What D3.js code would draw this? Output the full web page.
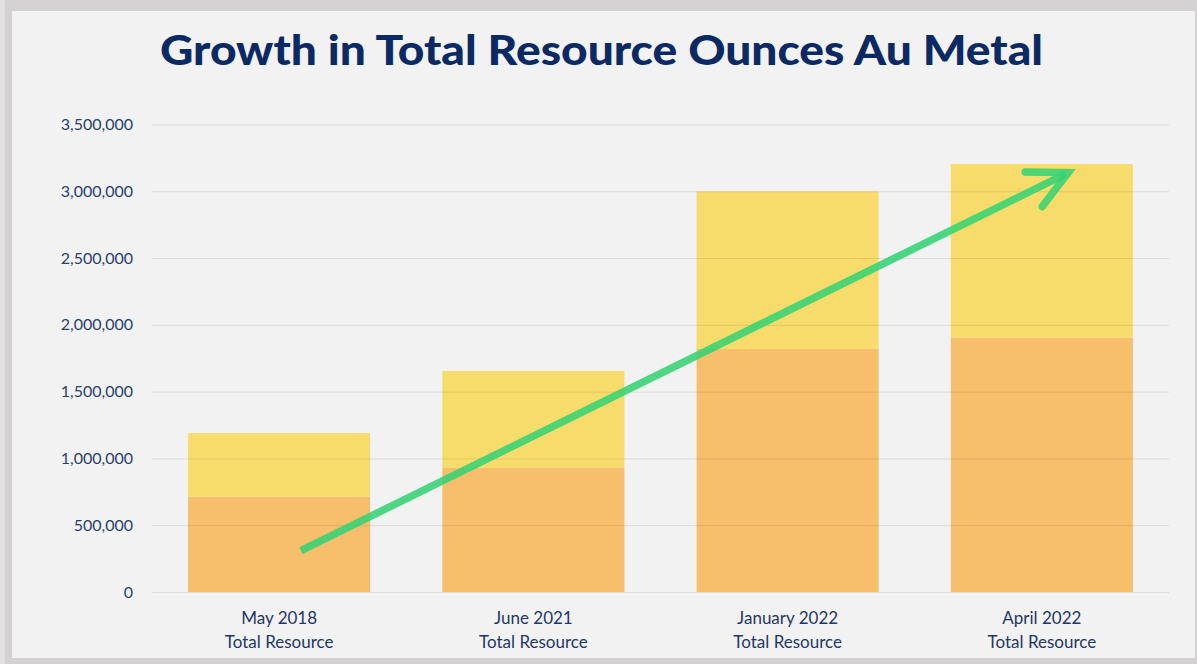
<!DOCTYPE html>
<html><head><meta charset="utf-8">
<script src="https://cdn.jsdelivr.net/npm/d3@7"></script>
<style>html,body{margin:0;padding:0;background:#d3d1d1;}svg{display:block;}</style>
</head><body>
<svg id="c" width="1197" height="664"></svg>
<script>
const title = "Growth in Total Resource Ounces Au Metal";
const categories = ["May 2018", "June 2021", "January 2022", "April 2022"];
const subLabel = "Total Resource";
const lowerValues = [714000, 929000, 1820000, 1905000];
const upperValues = [476000, 726000, 1180000, 1299000];
const yTicks = [0, 500000, 1000000, 1500000, 2000000, 2500000, 3000000, 3500000];
// arrow annotation in data units: [category index, fraction across band, value]
const arrowStart = [0, 0.62, 310000];
const arrowEnd = [3, 0.645, 3140000];

const svg = d3.select("#c");
svg.append("rect").attr("x",0).attr("y",0).attr("width",1197).attr("height",664).attr("fill","#d3d1d1");
svg.append("rect").attr("x",0).attr("y",0).attr("width",5).attr("height",664).attr("fill","#e2e0e0");
svg.append("rect").attr("x",12).attr("y",11).attr("width",1183).attr("height",647).attr("fill","#f2f2f2");

const x = d3.scaleBand().domain(categories).range([152,1169]).paddingInner(0.284).paddingOuter(0.142);
const y = d3.scaleLinear().domain([0,3500000]).range([592,124.5]);

// title
svg.append("text").attr("x",601.5).attr("y",65).attr("text-anchor","middle")
  .attr("font-family","Lato, 'Open Sans', sans-serif").attr("font-weight","900")
  .attr("font-size",41).attr("fill","#0b2a63")
  .attr("textLength",883).attr("lengthAdjust","spacingAndGlyphs").text(title);

// bars
const stack = categories.map((c,i)=>({c, lo:lowerValues[i], hi:upperValues[i]}));
svg.append("g").selectAll("rect").data(stack).join("rect")
  .attr("x",d=>x(d.c)).attr("width",x.bandwidth())
  .attr("y",d=>y(d.lo)).attr("height",d=>y(0)-y(d.lo)).attr("fill","#f7bf6c");
svg.append("g").selectAll("rect").data(stack).join("rect")
  .attr("x",d=>x(d.c)).attr("width",x.bandwidth())
  .attr("y",d=>y(d.lo+d.hi)).attr("height",d=>y(d.lo)-y(d.lo+d.hi)).attr("fill","#f8dc6b");

// y axis with gridlines
const yAxis = d3.axisLeft(y).tickValues(yTicks).tickFormat(d3.format(",")).tickSize(-(1169-152)).tickPadding(19);
const gy = svg.append("g").attr("transform","translate(152,0)").call(yAxis);
gy.select(".domain").remove();
gy.selectAll(".tick line").attr("stroke","#000").attr("stroke-opacity",0.09).attr("stroke-width",1);
gy.selectAll(".tick text").attr("font-family","Lato, sans-serif").attr("font-size",16).attr("fill","#2a3f6e");

// x axis labels
const xAxis = d3.axisBottom(x).tickSize(0).tickFormat("");
const gx = svg.append("g").attr("transform","translate(0,592)").call(xAxis);
gx.select(".domain").remove();
gx.selectAll(".tick").each(function(d){
  const t = d3.select(this).append("text").attr("text-anchor","middle")
    .attr("font-family","Lato, sans-serif").attr("font-size",17).attr("fill","#1f3766");
  t.append("tspan").attr("x",0).attr("y",32).text(d);
  t.append("tspan").attr("x",0).attr("y",56).text(subLabel);
});

// arrow
const px = a => x(categories[a[0]]) + a[1]*x.bandwidth();
const x0 = px(arrowStart), y0 = y(arrowStart[2]), x1 = px(arrowEnd), y1 = y(arrowEnd[2]);
const ag = svg.append("g").attr("stroke","#36d374").attr("stroke-opacity",0.88).attr("fill","none")
  .attr("stroke-width",7.5).attr("stroke-linecap","round");
ag.append("line").attr("x1",x0).attr("y1",y0).attr("x2",x1-3).attr("y2",y1+1.5).attr("stroke-linecap","butt");
const hp = d3.path();
hp.moveTo(x1-43, y1-0.5); hp.lineTo(x1, y1); hp.lineTo(x1-26, y1+34);
ag.append("path").attr("d",hp.toString()).attr("stroke-linejoin","miter");
</script>
</body></html>
